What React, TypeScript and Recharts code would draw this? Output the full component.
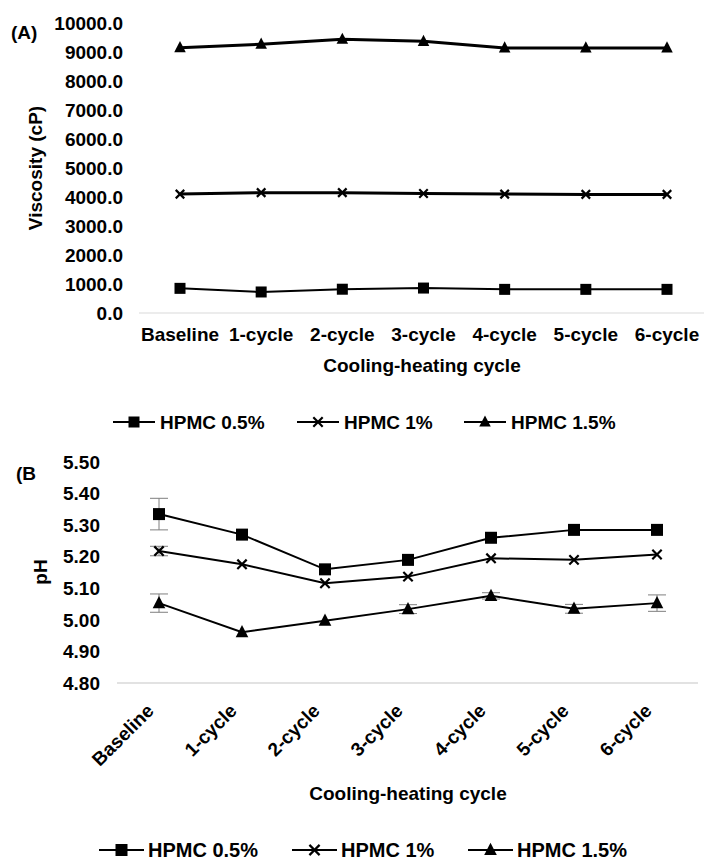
import React from 'react';
import { LineChart, Line, XAxis, YAxis, ErrorBar } from 'recharts';

const FONT = '"Liberation Sans", Arial, sans-serif';

const categories = ['Baseline', '1-cycle', '2-cycle', '3-cycle', '4-cycle', '5-cycle', '6-cycle'];
const seriesNames = ['HPMC 0.5%', 'HPMC 1%', 'HPMC 1.5%'];

// Panel A: viscosity (cP)
const viscosity05 = [850, 725, 820, 860, 815, 815, 815];
const viscosity1 = [4100, 4150, 4150, 4120, 4100, 4090, 4090];
const viscosity15 = [9150, 9270, 9440, 9370, 9140, 9140, 9140];
const viscosityTicks = [0, 1000, 2000, 3000, 4000, 5000, 6000, 7000, 8000, 9000, 10000];

// Panel B: pH
const ph05 = [5.335, 5.27, 5.16, 5.19, 5.26, 5.285, 5.285];
const ph05Err = [0.05, 0, 0, 0, 0, 0, 0];
const ph1 = [5.218, 5.176, 5.116, 5.137, 5.195, 5.19, 5.207];
const ph1Err = [0.015, 0, 0, 0, 0, 0, 0];
const ph15 = [5.053, 4.961, 4.997, 5.034, 5.076, 5.035, 5.053];
const ph15Err = [0.029, 0, 0, 0.014, 0.01, 0.014, 0.026];
const phTicks = [4.8, 4.9, 5.0, 5.1, 5.2, 5.3, 5.4, 5.5];

const viscosityData = categories.map((name, i) => ({
  name,
  s05: viscosity05[i],
  s1: viscosity1[i],
  s15: viscosity15[i],
}));

const phData = categories.map((name, i) => ({
  name,
  s05: ph05[i],
  s05e: ph05Err[i],
  s1: ph1[i],
  s1e: ph1Err[i],
  s15: ph15[i],
  s15e: ph15Err[i],
}));

type MarkerKind = 'square' | 'cross' | 'triangle';
const markerKinds: MarkerKind[] = ['square', 'cross', 'triangle'];

function Marker({ kind, cx, cy, size }: { kind: MarkerKind; cx: number; cy: number; size: number }) {
  const h = size / 2;
  if (kind === 'square') {
    return <rect x={cx - h} y={cy - h} width={size} height={size} fill="#000" />;
  }
  if (kind === 'cross') {
    const c = h * 0.85;
    return (
      <g stroke="#000" strokeWidth={2.2}>
        <line x1={cx - c} y1={cy - c} x2={cx + c} y2={cy + c} />
        <line x1={cx - c} y1={cy + c} x2={cx + c} y2={cy - c} />
      </g>
    );
  }
  return (
    <polygon
      points={`${cx},${cy - size * 0.6} ${cx - h * 1.05},${cy + size * 0.42} ${cx + h * 1.05},${cy + size * 0.42}`}
      fill="#000"
    />
  );
}

const makeDot = (kind: MarkerKind, size: number) => (props: any) => {
  const { cx, cy, index } = props;
  if (cx == null || cy == null) return <g key={`d-${kind}-${index}`} />;
  return (
    <g key={`d-${kind}-${index}`}>
      <Marker kind={kind} cx={cx} cy={cy} size={size} />
    </g>
  );
};

const tickStyle = { fontSize: 19, fontWeight: 'bold' as const, fill: '#000', fontFamily: FONT };

const RotatedTick = (props: any) => {
  const { x, y, payload } = props;
  return (
    <text
      transform={`translate(${x - 4},${y + 21}) rotate(-45)`}
      textAnchor="end"
      fontSize={19}
      fontWeight="bold"
      fill="#000"
      fontFamily={FONT}
    >
      {payload.value}
    </text>
  );
};

function LegendRow({ y, starts, lineLen, gap, fontSize, markerSize }: { y: number; starts: number[]; lineLen: number; gap: number; fontSize: number; markerSize: number }) {
  return (
    <g>
      {seriesNames.map((nm, i) => (
        <g key={nm}>
          <line x1={starts[i]} y1={y} x2={starts[i] + lineLen} y2={y} stroke="#000" strokeWidth={2} />
          <Marker kind={markerKinds[i]} cx={starts[i] + lineLen / 2} cy={y} size={markerSize} />
          <text
            x={starts[i] + lineLen + gap}
            y={y}
            dominantBaseline="central"
            fontSize={fontSize}
            fontWeight="bold"
            fill="#000"
            fontFamily={FONT}
          >
            {nm}
          </text>
        </g>
      ))}
    </g>
  );
}

export default function App() {
  return (
    <div style={{ position: 'absolute', left: 0, top: 0, width: 704, height: 860, overflow: 'hidden', background: '#fff' }}>
      <div style={{ position: 'absolute', left: 0, top: 0 }}>
        <LineChart width={708} height={400} data={viscosityData} margin={{ top: 23, right: 0, left: 0, bottom: 0 }}>
          <XAxis
            dataKey="name"
            interval={0}
            tickLine={false}
            axisLine={{ stroke: '#d9d9d9', strokeWidth: 1 }}
            tick={tickStyle}
            tickMargin={9}
            height={87}
            padding={{ left: 41, right: 41 }}
          />
          <YAxis
            domain={[0, 10000]}
            ticks={viscosityTicks}
            interval={0}
            axisLine={false}
            tickLine={false}
            tick={tickStyle}
            tickMargin={10}
            width={139}
            tickFormatter={(v: number) => v.toFixed(1)}
          />
          <Line dataKey="s05" name={seriesNames[0]} stroke="#000" strokeWidth={2} isAnimationActive={false} dot={makeDot('square', 11)} activeDot={false} />
          <Line dataKey="s1" name={seriesNames[1]} stroke="#000" strokeWidth={3} isAnimationActive={false} dot={makeDot('cross', 10)} activeDot={false} />
          <Line dataKey="s15" name={seriesNames[2]} stroke="#000" strokeWidth={3} isAnimationActive={false} dot={makeDot('triangle', 11)} activeDot={false} />
        </LineChart>
      </div>
      <div style={{ position: 'absolute', left: 0, top: 440 }}>
        <LineChart width={704} height={420} data={phData} margin={{ top: 22, right: 6, left: 0, bottom: 0 }}>
          <XAxis
            dataKey="name"
            interval={0}
            tickLine={false}
            axisLine={{ stroke: '#d9d9d9', strokeWidth: 1.5 }}
            tick={<RotatedTick />}
            height={177}
            padding={{ left: 42, right: 41 }}
          />
          <YAxis
            domain={[4.8, 5.5]}
            ticks={phTicks}
            interval={0}
            axisLine={false}
            tickLine={false}
            tick={tickStyle}
            tickMargin={11}
            width={117}
            tickFormatter={(v: number) => v.toFixed(2)}
          />
          <Line dataKey="s05" name={seriesNames[0]} stroke="#000" strokeWidth={2} isAnimationActive={false} dot={makeDot('square', 12)} activeDot={false}>
            <ErrorBar dataKey="s05e" width={9} stroke="#7f7f7f" strokeWidth={1} direction="y" />
          </Line>
          <Line dataKey="s1" name={seriesNames[1]} stroke="#000" strokeWidth={2} isAnimationActive={false} dot={makeDot('cross', 11)} activeDot={false}>
            <ErrorBar dataKey="s1e" width={9} stroke="#7f7f7f" strokeWidth={1} direction="y" />
          </Line>
          <Line dataKey="s15" name={seriesNames[2]} stroke="#000" strokeWidth={2} isAnimationActive={false} dot={makeDot('triangle', 12)} activeDot={false}>
            <ErrorBar dataKey="s15e" width={9} stroke="#7f7f7f" strokeWidth={1} direction="y" />
          </Line>
        </LineChart>
      </div>
      <svg width={704} height={860} style={{ position: 'absolute', left: 0, top: 0, pointerEvents: 'none' }}>
        <text x={11} y={32} dominantBaseline="central" fontSize={19} fontWeight="bold" fill="#000" fontFamily={FONT}>(A)</text>
        <text transform="translate(35,168) rotate(-90)" textAnchor="middle" dominantBaseline="central" fontSize={19} fontWeight="bold" fill="#000" fontFamily={FONT}>Viscosity (cP)</text>
        <text x={422} y={365} textAnchor="middle" dominantBaseline="central" fontSize={19} fontWeight="bold" fill="#000" fontFamily={FONT}>Cooling-heating cycle</text>
        <LegendRow y={422} starts={[113, 297, 464]} lineLen={42} gap={5} fontSize={19} markerSize={11} />
        <text x={16} y={473} dominantBaseline="central" fontSize={19} fontWeight="bold" fill="#000" fontFamily={FONT}>(B</text>
        <text transform="translate(40,572) rotate(-90)" textAnchor="middle" dominantBaseline="central" fontSize={19} fontWeight="bold" fill="#000" fontFamily={FONT}>pH</text>
        <text x={408} y={793} textAnchor="middle" dominantBaseline="central" fontSize={19} fontWeight="bold" fill="#000" fontFamily={FONT}>Cooling-heating cycle</text>
        <LegendRow y={850} starts={[99, 292, 468]} lineLen={45} gap={4} fontSize={20} markerSize={12} />
      </svg>
    </div>
  );
}
